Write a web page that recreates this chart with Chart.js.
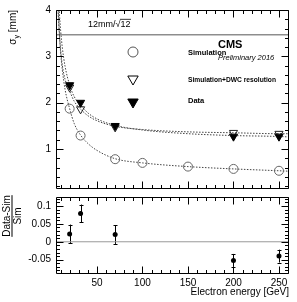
<!DOCTYPE html>
<html><head><meta charset="utf-8">
<script src="https://cdn.jsdelivr.net/npm/chart.js@4/dist/chart.umd.min.js"></script>
<style>
html,body{margin:0;padding:0;background:#fff;}
#wrap{position:relative;width:297px;height:302px;overflow:hidden;background:#fff;}
canvas{position:absolute;left:0;}
</style></head><body>
<div id="wrap">
<canvas id="top" width="297" height="195" style="top:0"></canvas>
<canvas id="bot" width="297" height="109" style="top:193px"></canvas>
</div>
<script>
// ---- data ----
const simEnergies = [20, 32, 70, 100, 150, 200, 250];
const simValues   = [1.87, 1.29, 0.78, 0.70, 0.62, 0.57, 0.53];
const dwcEnergies = [20, 32, 70, 200, 250];
const dwcValues   = [2.33, 1.86, 1.47, 1.35, 1.33];
const dataEnergies = [20, 32, 70, 200, 250];
const dataValues   = [2.38, 2.00, 1.50, 1.27, 1.27];
const ratioValues  = [0.022, 0.079, 0.020, -0.052, -0.040];
const ratioErrors  = [0.026, 0.025, 0.026, 0.018, 0.018];
// fit curves (dotted)
const fitEnergies = [6, 7, 8, 9, 10, 12, 15, 20, 25, 32, 40, 50, 70, 100, 150, 200, 250, 261];
const simFit  = [4.9, 4.2, 3.8, 3.4, 3.1, 2.7, 2.28, 1.87, 1.55, 1.30, 1.12, 0.97, 0.79, 0.70, 0.62, 0.57, 0.53, 0.52];
const dwcFit  = [4.6, 4.1, 3.7, 3.4, 3.15, 2.8, 2.5, 2.25, 2.03, 1.86, 1.72, 1.61, 1.49, 1.42, 1.37, 1.35, 1.33, 1.33];
const dataFit = [5.2, 4.6, 4.18, 3.85, 3.58, 3.18, 2.78, 2.38, 2.13, 1.95, 1.78, 1.65, 1.51, 1.41, 1.33, 1.29, 1.27, 1.26];
const resolutionLine = 3.464; // 12mm/sqrt(12)
const xRange = [5, 261];
const xTickLabels = [50, 100, 150, 200, 250];
const yTickLabelsTop = [1, 2, 3, 4];
const yRangeTop = [0.13, 4];
const yTickValuesBottom = [-0.05, 0, 0.05, 0.1];
const yTickLabelsBottom = ['-0.05', '0', '0.05', '0.1'];
const yRangeBottom = [-0.09, 0.125];
const legendLabels = ['Simulation', 'Simulation+DWC resolution', 'Data'];

const FONT = 'Liberation Sans, Arial, Helvetica, sans-serif';
const pts = (xs, ys) => xs.map((x, i) => ({x: x, y: ys[i]}));

function minorList(a, b, step) { const r = []; for (let v = a; v <= b + 1e-9; v += step) r.push(+v.toFixed(4)); return r; }

function frameTicks(chart, yMaj, yMin, xMaj, xMin, lenMaj, lenMin) {
  const {ctx, chartArea: a, scales: {x, y}} = chart;
  const L = Math.round(a.left) + 0.5, R = Math.round(a.right) - 0.5, T = Math.round(a.top) + 0.5, B = Math.round(a.bottom) - 0.5;
  ctx.save();
  ctx.strokeStyle = '#000'; ctx.lineWidth = 1;
  ctx.beginPath();
  ctx.rect(L, T, R - L, B - T);
  const xt = (vals, len) => vals.forEach(v => { const p = Math.round(x.getPixelForValue(v)) + 0.5; if (p < L || p > R) return; ctx.moveTo(p, T); ctx.lineTo(p, T + len); ctx.moveTo(p, B); ctx.lineTo(p, B - len); });
  const yt = (vals, len) => vals.forEach(v => { const p = Math.round(y.getPixelForValue(v)) + 0.5; if (p < T || p > B) return; ctx.moveTo(L, p); ctx.lineTo(L + len, p); ctx.moveTo(R, p); ctx.lineTo(R - len, p); });
  xt(xMaj, lenMaj); xt(xMin, lenMin); yt(yMaj, lenMaj); yt(yMin, lenMin);
  ctx.stroke();
  ctx.restore();
}

function triDown(ctx, cx, cy, r, fill) {
  ctx.beginPath();
  ctx.moveTo(cx - r * 0.866, cy - r * 0.5);
  ctx.lineTo(cx + r * 0.866, cy - r * 0.5);
  ctx.lineTo(cx, cy + r);
  ctx.closePath();
  if (fill) { ctx.fillStyle = '#000'; ctx.fill(); }
  ctx.strokeStyle = '#000'; ctx.lineWidth = 1; ctx.stroke();
}

const topDecor = {
  id: 'topDecor',
  afterDatasetsDraw(chart) {
    frameTicks(chart, yTickLabelsTop, minorList(0.2, 3.8, 0.2), xTickLabels, minorList(10, 260, 10), 7, 3.5);
    const ctx = chart.ctx;
    const y = chart.scales.y;
    ctx.save();
    // 12mm/sqrt(12) label
    ctx.fillStyle = '#000';
    ctx.font = '9px ' + FONT;
    ctx.textBaseline = 'middle';
    ctx.textAlign = 'left';
    const lbl1 = '12mm/\u221A';
    const lx = 88, ly = y.getPixelForValue(resolutionLine) - 10;
    ctx.fillText(lbl1, lx, ly);
    const w1 = ctx.measureText(lbl1).width;
    ctx.fillText('12', lx + w1, ly);
    const w2 = ctx.measureText('12').width;
    ctx.beginPath(); ctx.lineWidth = 0.8; ctx.strokeStyle = '#000';
    ctx.moveTo(lx + w1 - 0.5, ly - 5.5); ctx.lineTo(lx + w1 + w2 + 0.5, ly - 5.5); ctx.stroke();
    // legend
    ctx.strokeStyle = '#555'; ctx.lineWidth = 1;
    ctx.beginPath(); ctx.arc(133, 52, 5, 0, Math.PI * 2); ctx.stroke();
    triDown(ctx, 133, 79, 6, false);
    triDown(ctx, 133, 102, 6, true);
    ctx.fillStyle = '#000';
    ctx.font = 'bold 7.5px ' + FONT;
    ctx.fillText(legendLabels[0], 188, 53);
    ctx.fillText(legendLabels[1], 188, 80, 88);
    ctx.fillText(legendLabels[2], 188, 101);
    ctx.font = 'bold 11px ' + FONT;
    ctx.fillText('CMS', 218, 45);
    ctx.font = 'italic 7.5px ' + FONT;
    ctx.fillText('Preliminary 2016', 218, 58);
    // y title sigma_y [mm]
    ctx.translate(16, 10);
    ctx.rotate(-Math.PI / 2);
    ctx.textAlign = 'left'; ctx.textBaseline = 'alphabetic';
    ctx.font = '10px ' + FONT;
    const tw = ctx.measureText('\u03C3').width, tw2 = ctx.measureText(' [mm]').width;
    ctx.font = '7px ' + FONT;
    const sw = ctx.measureText('y').width;
    const start = -(tw + sw + tw2);
    ctx.font = '10px ' + FONT;
    ctx.fillText('\u03C3', start, 0);
    ctx.font = '7px ' + FONT;
    ctx.fillText('y', start + tw, 2.5);
    ctx.font = '10px ' + FONT;
    ctx.fillText(' [mm]', start + tw + sw, 0);
    ctx.restore();
  }
};

const botDecor = {
  id: 'botDecor',
  beforeDatasetsDraw(chart) {
    const {ctx, scales: {x, y}} = chart;
    ctx.save();
    ctx.strokeStyle = '#000'; ctx.lineWidth = 1;
    ctx.beginPath();
    dataEnergies.forEach((e, i) => {
      const px = Math.round(x.getPixelForValue(e)) + 0.5;
      const y1 = y.getPixelForValue(ratioValues[i] + ratioErrors[i]);
      const y2 = y.getPixelForValue(ratioValues[i] - ratioErrors[i]);
      ctx.moveTo(px, y1); ctx.lineTo(px, y2);
      ctx.moveTo(px - 2, Math.round(y1) + 0.5); ctx.lineTo(px + 2, Math.round(y1) + 0.5);
      ctx.moveTo(px - 2, Math.round(y2) + 0.5); ctx.lineTo(px + 2, Math.round(y2) + 0.5);
    });
    ctx.stroke();
    ctx.restore();
  },
  afterDatasetsDraw(chart) {
    frameTicks(chart, yTickValuesBottom, minorList(-0.08, 0.12, 0.01), xTickLabels, minorList(10, 260, 10), 7, 3.5);
    const ctx = chart.ctx;
    ctx.save();
    ctx.translate(12, 23);
    ctx.rotate(-Math.PI / 2);
    ctx.fillStyle = '#000';
    ctx.font = '10px ' + FONT;
    ctx.textAlign = 'center';
    ctx.textBaseline = 'alphabetic';
    ctx.fillText('Data-Sim', 0, -2);
    const w = ctx.measureText('Data-Sim').width;
    ctx.fillRect(-w / 2, -0.5, w, 1);
    ctx.textBaseline = 'top';
    ctx.fillText('Sim', 0, 1);
    ctx.restore();
  }
};

const commonY = (min, max, vals, labels) => ({
  type: 'linear', min: min, max: max,
  afterBuildTicks(s) { s.ticks = vals.map(v => ({value: v})); },
  afterFit(s) { s.width = 56; s.paddingTop = 0; s.paddingBottom = 0; },
  grid: {display: false, drawTicks: false}, border: {display: false},
  ticks: {padding: 5, color: '#000', autoSkip: false, font: {family: FONT, size: 10},
    callback: (v) => { const i = vals.indexOf(v); return labels ? labels[i] : String(v); }}
});

new Chart(document.getElementById('top'), {
  type: 'scatter',
  data: {datasets: [
    {data: pts(dataEnergies, dataValues), pointStyle: 'triangle', rotation: 180, pointRadius: 4.7, borderColor: '#000', backgroundColor: '#000', borderWidth: 1},
    {data: pts(dwcEnergies, dwcValues), pointStyle: 'triangle', rotation: 180, pointRadius: 4.7, borderColor: '#222', backgroundColor: 'rgba(255,255,255,0)', borderWidth: 1},
    {data: pts(simEnergies, simValues), pointStyle: 'circle', pointRadius: 4.5, borderColor: '#666', backgroundColor: 'rgba(255,255,255,0)', borderWidth: 1},
    {data: pts(fitEnergies, simFit), showLine: true, pointRadius: 0, borderColor: '#444', borderWidth: 1, borderDash: [1.5, 1.5], cubicInterpolationMode: 'monotone'},
    {data: pts(fitEnergies, dwcFit), showLine: true, pointRadius: 0, borderColor: '#444', borderWidth: 1, borderDash: [1.5, 1.5], cubicInterpolationMode: 'monotone'},
    {data: pts(fitEnergies, dataFit), showLine: true, pointRadius: 0, borderColor: '#444', borderWidth: 1, borderDash: [1.5, 1.5], cubicInterpolationMode: 'monotone'},
    {data: pts(xRange, [resolutionLine, resolutionLine]), showLine: true, pointRadius: 0, borderColor: '#555', borderWidth: 1}
  ]},
  options: {
    responsive: false, animation: false, devicePixelRatio: 1,
    layout: {padding: {top: 10, right: 8, bottom: 1, left: 0}},
    plugins: {legend: {display: false}, tooltip: {enabled: false}},
    events: [],
    scales: {
      x: {type: 'linear', min: xRange[0], max: xRange[1], display: false},
      y: commonY(yRangeTop[0], yRangeTop[1], yTickLabelsTop, null)
    }
  },
  plugins: [topDecor]
});

new Chart(document.getElementById('bot'), {
  type: 'scatter',
  data: {datasets: [
    {data: pts(dataEnergies, ratioValues), pointStyle: 'circle', pointRadius: 2.5, borderColor: '#000', backgroundColor: '#000', borderWidth: 0},
    {data: pts(xRange, [0, 0]), showLine: true, pointRadius: 0, borderColor: '#999', borderWidth: 1}
  ]},
  options: {
    responsive: false, animation: false, devicePixelRatio: 1,
    layout: {padding: {top: 0, right: 8, bottom: 0, left: 0}},
    plugins: {legend: {display: false}, tooltip: {enabled: false}},
    events: [],
    scales: {
      x: {type: 'linear', min: xRange[0], max: xRange[1],
        afterBuildTicks(s) { s.ticks = xTickLabels.map(v => ({value: v})); },
        afterFit(s) { s.height = 28; s.paddingLeft = 0; s.paddingRight = 0; },
        grid: {display: false, drawTicks: false}, border: {display: false},
        ticks: {padding: 3, color: '#000', autoSkip: false, maxRotation: 0, font: {family: FONT, size: 10}},
        title: {display: true, text: 'Electron energy [GeV]', align: 'end', color: '#000', font: {family: FONT, size: 10}, padding: {top: 0, bottom: 4}}
      },
      y: commonY(yRangeBottom[0], yRangeBottom[1], yTickValuesBottom, yTickLabelsBottom)
    }
  },
  plugins: [botDecor]
});
</script>
</body></html>
